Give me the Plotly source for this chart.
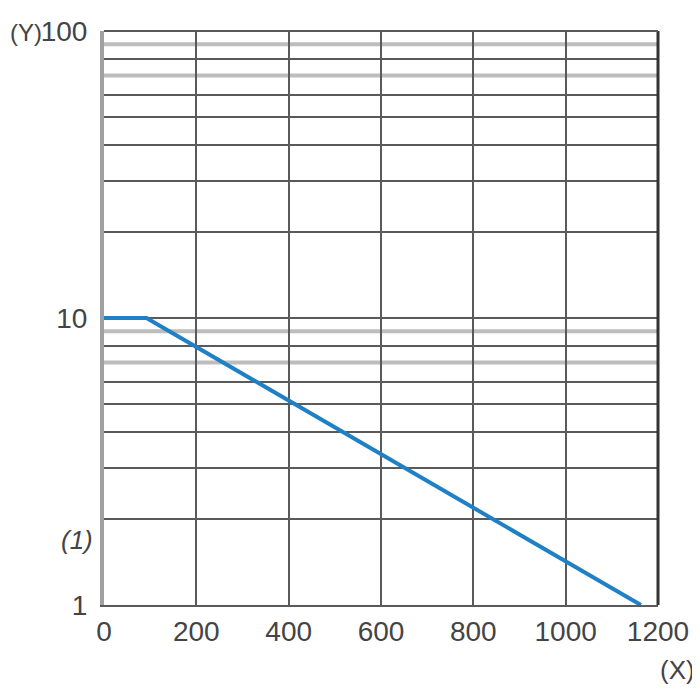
"""
Log-scale derating curve - line on a semi-log grid
"""

import plotly.graph_objects as go

# Curve values
x_values = [0, 92, 1163]
y_values = [10, 10, 1]

# Axis ticks
x_ticks = [0, 200, 400, 600, 800, 1000, 1200]
y_ticks = [1, 10, 100]
y_tick_labels = ['1', '10', '100']

# Minor log grid lines (dark) and the light ones
y_minor_dark = [2, 3, 4, 5, 6, 8, 20, 30, 40, 50, 60, 80]
y_minor_light = [7, 9, 70, 90]

DARK = '#5a5a5a'
LIGHT = '#bdbdbd'
TEXT = '#444444'
FONT = 'Liberation Sans, Arial, sans-serif'


def create_chart():
    """Build the semi-log chart"""

    fig = go.Figure()

    # Curve
    fig.add_trace(go.Scatter(
        x=x_values,
        y=y_values,
        mode='lines',
        line=dict(color='#1f80c6', width=4),
        showlegend=False,
        hoverinfo='skip'
    ))

    # Light grey grid lines at 7, 9, 70, 90
    for val in y_minor_light:
        fig.add_shape(
            type='line',
            xref='paper', x0=0, x1=1,
            yref='y', y0=val, y1=val,
            line=dict(color=LIGHT, width=4),
            layer='below'
        )

    # Right border is darker than the grid
    fig.add_shape(
        type='line',
        xref='paper', x0=1, x1=1,
        yref='paper', y0=0, y1=1,
        line=dict(color='#333333', width=3),
        layer='above'
    )
    # Top border
    fig.add_shape(
        type='line',
        xref='paper', x0=0, x1=1,
        yref='paper', y0=1, y1=1,
        line=dict(color=DARK, width=2),
        layer='above'
    )

    # Axis name labels
    fig.add_annotation(
        text='(Y)', xref='paper', yref='paper',
        x=-0.141, y=0.997, xanchor='center', yanchor='middle',
        showarrow=False,
        font=dict(size=24, color=TEXT, family=FONT)
    )
    fig.add_annotation(
        text='(X)', xref='paper', yref='paper',
        x=1.036, y=-0.113, xanchor='center', yanchor='middle',
        showarrow=False,
        font=dict(size=26, color=TEXT, family=FONT)
    )
    fig.add_annotation(
        text='<i>(1)</i>', xref='paper', yref='y',
        x=-0.049, y=0.2265, xanchor='center', yanchor='middle',
        showarrow=False,
        font=dict(size=26, color=TEXT, family=FONT)
    )

    # page body has an 8px margin, so the figure is a bit smaller
    fig.update_layout(
        width=692,
        height=692,
        paper_bgcolor='white',
        plot_bgcolor='white',
        font=dict(family=FONT, color=TEXT, size=28),
        margin=dict(l=96, r=42, t=23, b=95, autoexpand=False),
        xaxis=dict(
            range=[0, 1200],
            tickvals=x_ticks,
            showgrid=True,
            gridcolor=DARK,
            gridwidth=2,
            zeroline=False,
            showline=True,
            linecolor=DARK,
            linewidth=2,
            ticks='',
            automargin=False,
            tickfont=dict(size=28, color=TEXT),
            fixedrange=True
        ),
        yaxis=dict(
            type='log',
            range=[0, 2],
            tickvals=y_ticks,
            ticktext=y_tick_labels,
            showgrid=True,
            gridcolor=DARK,
            gridwidth=2,
            zeroline=False,
            showline=True,
            linecolor='#a0a0a0',
            linewidth=4,
            ticks='',
            ticklabelstandoff=7,
            automargin=False,
            tickfont=dict(size=28, color=TEXT),
            minor=dict(
                tickvals=y_minor_dark,
                showgrid=True,
                gridcolor=DARK,
                gridwidth=2,
                ticks=''
            ),
            fixedrange=True
        )
    )

    fig.write_html('out.html')


if __name__ == '__main__':
    create_chart()
